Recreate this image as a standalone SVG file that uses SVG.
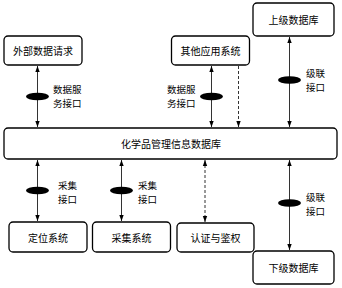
<svg xmlns="http://www.w3.org/2000/svg" width="342" height="288" viewBox="0 0 342 288">
<style>
.box{fill:#fff;stroke:#000;stroke-width:1.3}
.t{font-family:"Noto Sans CJK SC","Liberation Sans",sans-serif;font-size:10px;fill:#000;text-anchor:middle;dominant-baseline:central}
.l{font-family:"Noto Sans CJK SC","Liberation Sans",sans-serif;font-size:9.5px;fill:#000;dominant-baseline:central}
.c{stroke:#333;stroke-width:1;fill:none}
.d{stroke:#333;stroke-width:1;fill:none;stroke-dasharray:3,2}
.e{fill:#000}
</style>
<defs>
<marker id="a" viewBox="0 0 6 6" refX="6" refY="3" markerWidth="6" markerHeight="6" orient="auto-start-reverse" markerUnits="userSpaceOnUse">
<path d="M0,0.8 L6,3 L0,5.2 Z" fill="#000"/>
</marker>
</defs>
<g id="connectors">
<line class="c" x1="37.5" y1="66" x2="37.5" y2="127" marker-start="url(#a)" marker-end="url(#a)"/>
<line class="c" x1="211.5" y1="66" x2="211.5" y2="127" marker-start="url(#a)" marker-end="url(#a)"/>
<line class="d" x1="238.5" y1="66" x2="238.5" y2="127" marker-end="url(#a)"/>
<line class="c" x1="289.5" y1="37" x2="289.5" y2="127" marker-start="url(#a)" marker-end="url(#a)"/>
<line class="c" x1="37.5" y1="160" x2="37.5" y2="221" marker-start="url(#a)" marker-end="url(#a)"/>
<line class="c" x1="121.5" y1="160" x2="121.5" y2="221" marker-start="url(#a)" marker-end="url(#a)"/>
<line class="d" x1="205" y1="160" x2="205" y2="222" marker-start="url(#a)" marker-end="url(#a)"/>
<line class="c" x1="289.5" y1="160" x2="289.5" y2="250" marker-start="url(#a)" marker-end="url(#a)"/>
<ellipse class="e" cx="37.5" cy="96.5" rx="11.5" ry="3.8"/>
<ellipse class="e" cx="211.5" cy="96.5" rx="11.5" ry="3.8"/>
<ellipse class="e" cx="289.5" cy="80" rx="11.5" ry="3.8"/>
<ellipse class="e" cx="37.5" cy="190.5" rx="11.5" ry="3.8"/>
<ellipse class="e" cx="121.5" cy="190.5" rx="11.5" ry="3.8"/>
<ellipse class="e" cx="289.5" cy="203" rx="11.5" ry="3.8"/>
<text class="l" x="53" y="88.5">数据服</text>
<text class="l" x="53" y="102.5">务接口</text>
<text class="l" x="167" y="88.5">数据服</text>
<text class="l" x="167" y="102.5">务接口</text>
<text class="l" x="306" y="72.5">级联</text>
<text class="l" x="306" y="86.5">接口</text>
<text class="l" x="58" y="184.5">采集</text>
<text class="l" x="58" y="198.5">接口</text>
<text class="l" x="138" y="184.5">采集</text>
<text class="l" x="138" y="198.5">接口</text>
<text class="l" x="306" y="196.5">级联</text>
<text class="l" x="306" y="210.5">接口</text>
</g>
<g id="ext"><rect class="box" x="4" y="36" width="78" height="29" rx="4"/><text class="t" x="43" y="50.5">外部数据请求</text></g>
<g id="other"><rect class="box" x="171.5" y="36" width="78" height="29" rx="4"/><text class="t" x="210.5" y="50.5">其他应用系统</text></g>
<g id="upper"><rect class="box" x="253" y="3" width="81" height="33" rx="4"/><text class="t" x="293.5" y="19.5">上级数据库</text></g>
<g id="main"><rect class="box" x="4" y="128" width="333" height="31" rx="4"/><text class="t" x="171" y="143.5">化学品管理信息数据库</text></g>
<g id="locate"><rect class="box" x="9" y="222" width="78" height="30" rx="4"/><text class="t" x="48" y="237">定位系统</text></g>
<g id="collect"><rect class="box" x="92.5" y="222" width="78" height="30" rx="4"/><text class="t" x="131.5" y="237">采集系统</text></g>
<g id="auth"><rect class="box" x="177" y="223" width="77" height="29" rx="4"/><text class="t" x="215.5" y="237.5">认证与鉴权</text></g>
<g id="lower"><rect class="box" x="253" y="251" width="81" height="33" rx="4"/><text class="t" x="293.5" y="267.5">下级数据库</text></g>
</svg>
